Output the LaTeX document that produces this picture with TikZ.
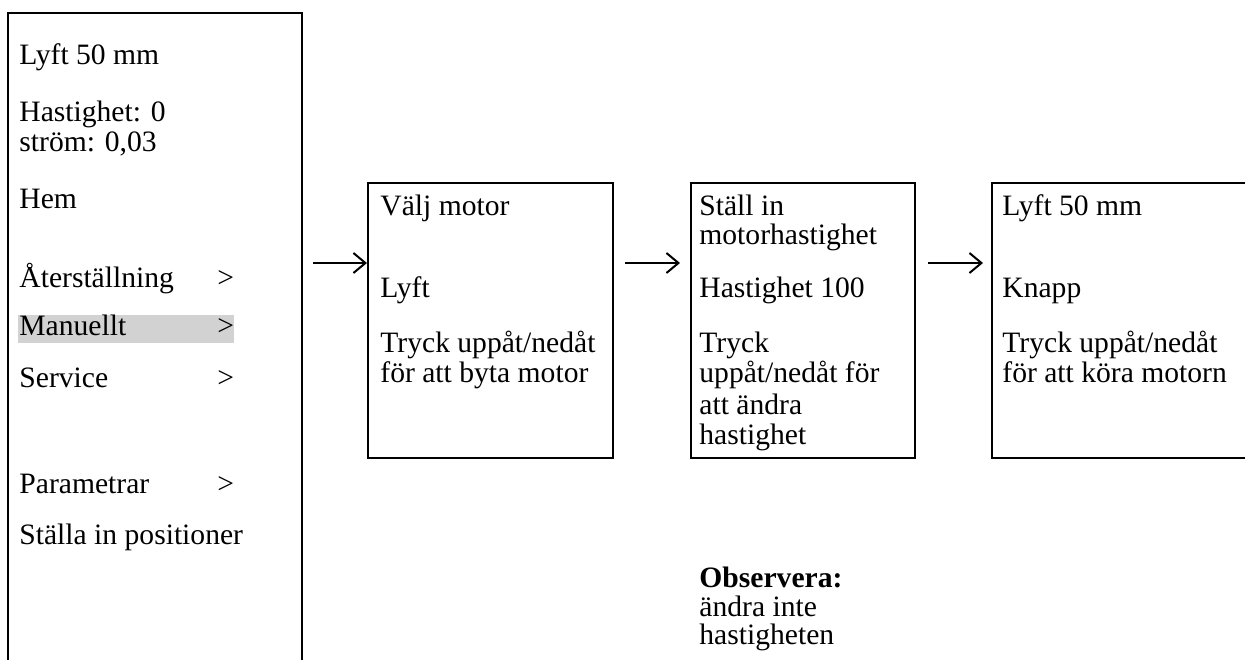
\documentclass[tikz,border=0pt]{standalone}
\usepackage{fontspec}
\setmainfont{Liberation Serif}
\usetikzlibrary{arrows.meta,fit}

\tikzset{
  box/.style={rectangle, draw=black, line width=1pt, inner sep=0pt},
  txt/.style={anchor=base west, inner sep=0pt, font=\fontsize{14.8}{15}\selectfont},
  flow/.style={line width=1pt, -{Straight Barb[length=6pt,width=10pt,line width=1pt]}}
}

\begin{document}
\begin{tikzpicture}[x=0.5pt, y=-0.5pt]
\useasboundingbox (0,0) rectangle (1245,659);

% boxes
\node (menu) [box, fit={(8,13) (302,720)}] {};
\node (motor) [box, fit={(368,183) (613,458)}] {};
\node (speed) [box, fit={(691,183) (915,458)}] {};
\node (run) [box, fit={(992,183) (1300,458)}] {};

% menu
\fill[gray!35] (18,315) rectangle (234,343);
\node (m1) [txt] at (19,64) {Lyft 50 mm};
\node (m2) [txt] at (19,121) {Hastighet: 0};
\node (m3) [txt] at (19,151) {ström: 0,03};
\node (m4) [txt] at (19,208) {Hem};
\node (m5) [txt] at (19,287) {Återställning};
\node (m6) [txt] at (19,335) {Manuellt};
\node (m7) [txt] at (19,387) {Service};
\node (m8) [txt] at (19,493) {Parametrar};
\node (m9) [txt] at (19,544) {Ställa in positioner};
\node (g5) [txt] at (217,287) {>};
\node (g6) [txt] at (217,335) {>};
\node (g7) [txt] at (217,387) {>};
\node (g8) [txt] at (217,493) {>};

% motor
\node (v1) [txt] at (380,215) {Välj motor};
\node (v2) [txt] at (380,297) {Lyft};
\node (v3) [txt] at (380,352) {Tryck uppåt/nedåt};
\node (v4) [txt] at (380,382) {för att byta motor};

% speed
\node (s1) [txt] at (699,215) {Ställ in};
\node (s2) [txt] at (699,244) {motorhastighet};
\node (s3) [txt] at (699,297) {Hastighet 100};
\node (s4) [txt] at (699,352) {Tryck};
\node (s5) [txt] at (699,382) {uppåt/nedåt för};
\node (s6) [txt] at (699,414) {att ändra};
\node (s7) [txt] at (699,444) {hastighet};

% run
\node (r1) [txt] at (1002,215) {Lyft 50 mm};
\node (r2) [txt] at (1002,297) {Knapp};
\node (r3) [txt] at (1002,352) {Tryck uppåt/nedåt};
\node (r4) [txt] at (1002,382) {för att köra motorn};

% note
\node (o1) [txt] at (699,587) {\bfseries Observera:};
\node (o2) [txt] at (699,616) {ändra inte};
\node (o3) [txt] at (699,644) {hastigheten};

% arrows
\coordinate (a1) at (313,263);
\coordinate (a2) at (625,263);
\coordinate (b2) at (680,263);
\coordinate (a3) at (928,263);
\coordinate (b3) at (983,263);
\draw[flow] (a1) -- (a1 -| motor.west);
\draw[flow] (a2) -- (b2);
\draw[flow] (a3) -- (b3);

\end{tikzpicture}
\end{document}
